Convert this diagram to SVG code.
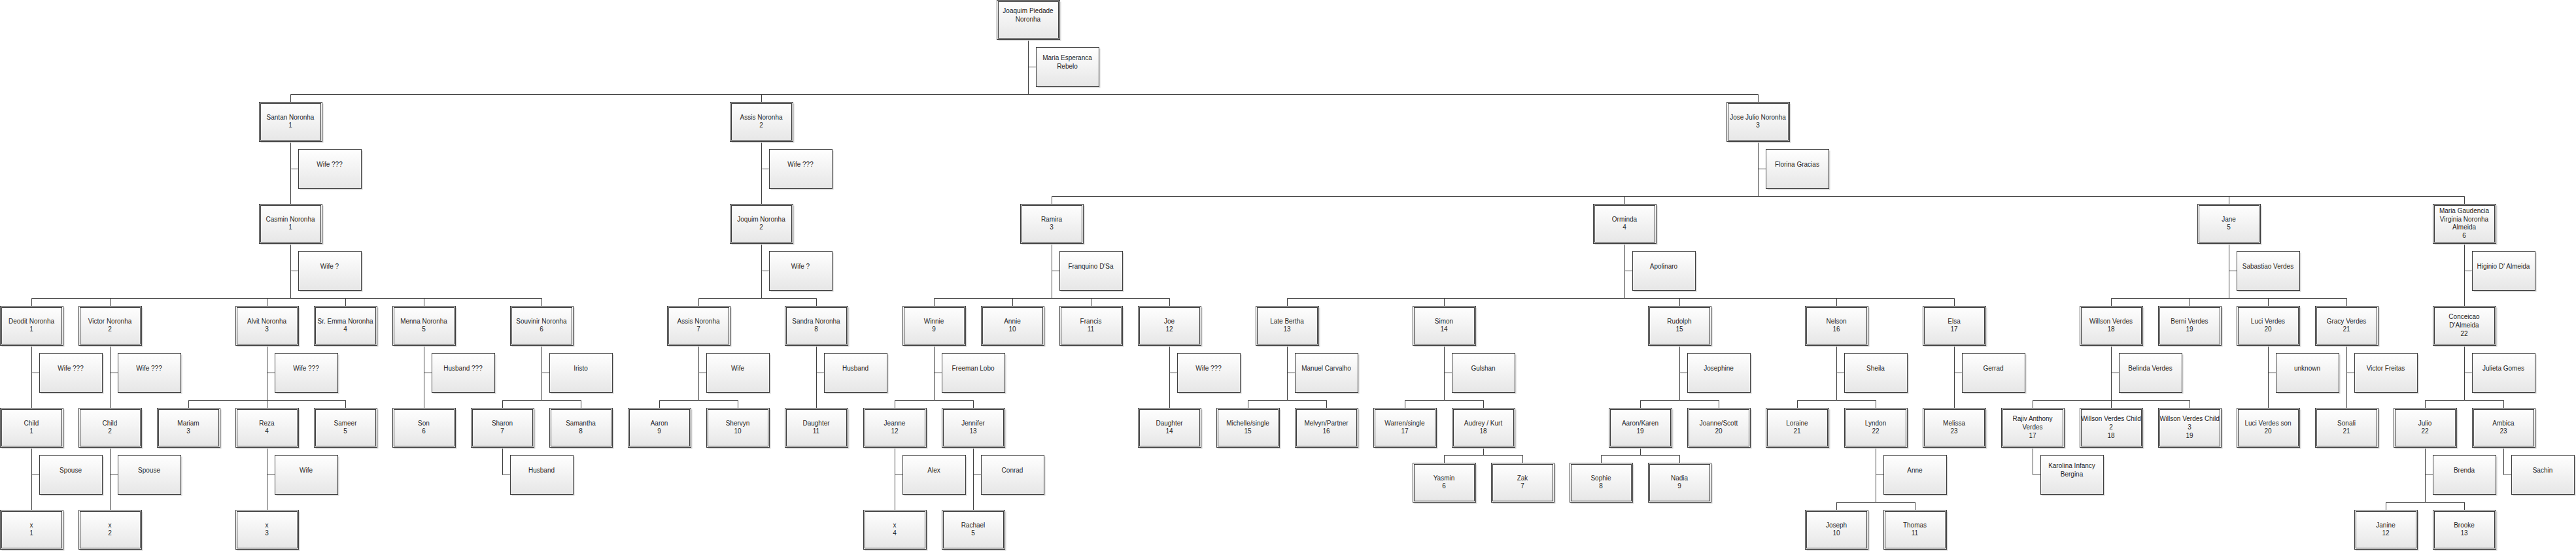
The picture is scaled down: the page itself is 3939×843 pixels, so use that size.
<svg xmlns="http://www.w3.org/2000/svg" width="3939" height="843" viewBox="0 0 3939 843">
<defs>
<linearGradient id="g" x1="0" y1="0" x2="0" y2="1">
<stop offset="0" stop-color="#ffffff"/>
<stop offset="1" stop-color="#e6e6e6"/>
</linearGradient>
<g id="P">
<rect class="sh" x="2.5" y="2.5" width="96" height="60"/>
<rect class="o" x="0.5" y="0.5" width="96" height="60"/>
<rect class="i" x="2.5" y="2.5" width="92" height="56"/>
</g>
<g id="S">
<rect class="sh" x="2.5" y="2.5" width="96" height="60"/>
<rect class="o" x="0.5" y="0.5" width="96" height="60"/>
</g>
</defs>
<style>
.o{fill:url(#g);stroke:#3f3f3f;stroke-width:1}
.i{fill:none;stroke:#3f3f3f;stroke-width:1}
.sh{fill:#d6d6d6}
.t{font-family:"Liberation Sans",Arial,sans-serif;font-size:10px;fill:#1e1e1e;text-anchor:middle}
#edges path{fill:none;stroke:#3f3f3f;stroke-width:1}
</style>
<rect width="3939" height="843" fill="#ffffff"/>

<g id="edges">
<path d="M1572.5 61V144.5M1572.5 102.5H1584.5M444.5 144.5H2688.5M444.5 144.5V156.5M1164.5 144.5V156.5M2688.5 144.5V156.5"/>
<path d="M444.5 217V312.5M444.5 258.5H456.5"/>
<path d="M1164.5 217V312.5M1164.5 258.5H1176.5"/>
<path d="M2688.5 217V300.5M2688.5 258.5H2700.5M1608.5 300.5H3768.5M1608.5 300.5V312.5M2484.5 300.5V312.5M3408.5 300.5V312.5M3768.5 300.5V312.5"/>
<path d="M444.5 373V456.5M444.5 414.5H456.5M48.5 456.5H828.5M48.5 456.5V468.5M168.5 456.5V468.5M408.5 456.5V468.5M528.5 456.5V468.5M648.5 456.5V468.5M828.5 456.5V468.5"/>
<path d="M1164.5 373V456.5M1164.5 414.5H1176.5M1068.5 456.5H1248.5M1068.5 456.5V468.5M1248.5 456.5V468.5"/>
<path d="M1608.5 373V456.5M1608.5 414.5H1620.5M1428.5 456.5H1788.5M1428.5 456.5V468.5M1548.5 456.5V468.5M1668.5 456.5V468.5M1788.5 456.5V468.5"/>
<path d="M2484.5 373V456.5M2484.5 414.5H2496.5M1968.5 456.5H2988.5M1968.5 456.5V468.5M2208.5 456.5V468.5M2568.5 456.5V468.5M2808.5 456.5V468.5M2988.5 456.5V468.5"/>
<path d="M3408.5 373V456.5M3408.5 414.5H3420.5M3228.5 456.5H3588.5M3228.5 456.5V468.5M3348.5 456.5V468.5M3468.5 456.5V468.5M3588.5 456.5V468.5"/>
<path d="M3768.5 373V468.5M3768.5 414.5H3780.5"/>
<path d="M48.5 529V624.5M48.5 570.5H60.5"/>
<path d="M168.5 529V624.5M168.5 570.5H180.5"/>
<path d="M408.5 529V624.5M408.5 570.5H420.5M288.5 612.5H528.5M288.5 612.5V624.5M528.5 612.5V624.5"/>
<path d="M648.5 529V624.5M648.5 570.5H660.5"/>
<path d="M828.5 529V612.5M828.5 570.5H840.5M768.5 612.5H888.5M768.5 612.5V624.5M888.5 612.5V624.5"/>
<path d="M1068.5 529V612.5M1068.5 570.5H1080.5M1008.5 612.5H1128.5M1008.5 612.5V624.5M1128.5 612.5V624.5"/>
<path d="M1248.5 529V624.5M1248.5 570.5H1260.5"/>
<path d="M1428.5 529V612.5M1428.5 570.5H1440.5M1368.5 612.5H1488.5M1368.5 612.5V624.5M1488.5 612.5V624.5"/>
<path d="M1788.5 529V624.5M1788.5 570.5H1800.5"/>
<path d="M1968.5 529V612.5M1968.5 570.5H1980.5M1908.5 612.5H2028.5M1908.5 612.5V624.5M2028.5 612.5V624.5"/>
<path d="M2208.5 529V612.5M2208.5 570.5H2220.5M2148.5 612.5H2268.5M2148.5 612.5V624.5M2268.5 612.5V624.5"/>
<path d="M2568.5 529V612.5M2568.5 570.5H2580.5M2508.5 612.5H2628.5M2508.5 612.5V624.5M2628.5 612.5V624.5"/>
<path d="M2808.5 529V612.5M2808.5 570.5H2820.5M2748.5 612.5H2868.5M2748.5 612.5V624.5M2868.5 612.5V624.5"/>
<path d="M2988.5 529V624.5M2988.5 570.5H3000.5"/>
<path d="M3228.5 529V624.5M3228.5 570.5H3240.5M3108.5 612.5H3348.5M3108.5 612.5V624.5M3348.5 612.5V624.5"/>
<path d="M3468.5 529V624.5M3468.5 570.5H3480.5"/>
<path d="M3588.5 529V624.5M3588.5 570.5H3600.5"/>
<path d="M3768.5 529V612.5M3768.5 570.5H3780.5M3708.5 612.5H3828.5M3708.5 612.5V624.5M3828.5 612.5V624.5"/>
<path d="M48.5 685V780.5M48.5 726.5H60.5"/>
<path d="M168.5 685V780.5M168.5 726.5H180.5"/>
<path d="M408.5 685V780.5M408.5 726.5H420.5"/>
<path d="M768.5 685V726.5H780.5"/>
<path d="M1368.5 685V780.5M1368.5 726.5H1380.5"/>
<path d="M1488.5 685V780.5M1488.5 726.5H1500.5"/>
<path d="M2268.5 685V696.5M2208.5 696.5H2328.5M2208.5 696.5V708.5M2328.5 696.5V708.5"/>
<path d="M2508.5 685V696.5M2448.5 696.5H2568.5M2448.5 696.5V708.5M2568.5 696.5V708.5"/>
<path d="M2868.5 685V768.5M2868.5 726.5H2880.5M2808.5 768.5H2928.5M2808.5 768.5V780.5M2928.5 768.5V780.5"/>
<path d="M3108.5 685V726.5H3120.5"/>
<path d="M3708.5 685V768.5M3708.5 726.5H3720.5M3648.5 768.5H3768.5M3648.5 768.5V780.5M3768.5 768.5V780.5"/>
<path d="M3828.5 685V726.5H3840.5"/>
</g>

<g id="n-root"><use href="#P" x="1524" y="0"/><text class="t" x="1572" y="20.3">Joaquim Piedade<tspan x="1572" dy="12.7">Noronha</tspan></text></g>
<g id="s-root"><use href="#S" x="1584" y="72"/><text class="t" x="1632" y="92.3">Maria Esperanca<tspan x="1632" dy="12.7">Rebelo</tspan></text></g>

<g id="n-santan"><use href="#P" x="396" y="156"/><text class="t" x="444" y="182.7">Santan Noronha<tspan x="444" dy="12.7">1</tspan></text></g>
<g id="s-santan"><use href="#S" x="456" y="228"/><text class="t" x="504" y="254.7">Wife ???</text></g>
<g id="n-assis"><use href="#P" x="1116" y="156"/><text class="t" x="1164" y="182.7">Assis Noronha<tspan x="1164" dy="12.7">2</tspan></text></g>
<g id="s-assis"><use href="#S" x="1176" y="228"/><text class="t" x="1224" y="254.7">Wife ???</text></g>
<g id="n-josejulio"><use href="#P" x="2640" y="156"/><text class="t" x="2688" y="182.7">Jose Julio Noronha<tspan x="2688" dy="12.7">3</tspan></text></g>
<g id="s-josejulio"><use href="#S" x="2700" y="228"/><text class="t" x="2748" y="254.7">Florina Gracias</text></g>

<g id="n-casmin"><use href="#P" x="396" y="312"/><text class="t" x="444" y="338.7">Casmin Noronha<tspan x="444" dy="12.7">1</tspan></text></g>
<g id="s-casmin"><use href="#S" x="456" y="384"/><text class="t" x="504" y="410.7">Wife ?</text></g>
<g id="n-joquim"><use href="#P" x="1116" y="312"/><text class="t" x="1164" y="338.7">Joquim Noronha<tspan x="1164" dy="12.7">2</tspan></text></g>
<g id="s-joquim"><use href="#S" x="1176" y="384"/><text class="t" x="1224" y="410.7">Wife ?</text></g>
<g id="n-ramira"><use href="#P" x="1560" y="312"/><text class="t" x="1608" y="338.7">Ramira<tspan x="1608" dy="12.7">3</tspan></text></g>
<g id="s-ramira"><use href="#S" x="1620" y="384"/><text class="t" x="1668" y="410.7">Franquino D'Sa</text></g>
<g id="n-orminda"><use href="#P" x="2436" y="312"/><text class="t" x="2484" y="338.7">Orminda<tspan x="2484" dy="12.7">4</tspan></text></g>
<g id="s-orminda"><use href="#S" x="2496" y="384"/><text class="t" x="2544" y="410.7">Apolinaro</text></g>
<g id="n-jane"><use href="#P" x="3360" y="312"/><text class="t" x="3408" y="338.7">Jane<tspan x="3408" dy="12.7">5</tspan></text></g>
<g id="s-jane"><use href="#S" x="3420" y="384"/><text class="t" x="3468" y="410.7">Sabastiao Verdes</text></g>
<g id="n-mariag"><use href="#P" x="3720" y="312"/><text class="t" x="3768" y="326">Maria Gaudencia<tspan x="3768" dy="12.7">Virginia Noronha</tspan><tspan x="3768" dy="12.7">Almeida</tspan><tspan x="3768" dy="12.7">6</tspan></text></g>
<g id="s-mariag"><use href="#S" x="3780" y="384"/><text class="t" x="3828" y="410.7">Higinio D' Almeida</text></g>

<g id="n-deodit"><use href="#P" x="0" y="468"/><text class="t" x="48" y="494.7">Deodit Noronha<tspan x="48" dy="12.7">1</tspan></text></g>
<g id="s-deodit"><use href="#S" x="60" y="540"/><text class="t" x="108" y="566.7">Wife ???</text></g>
<g id="n-victor"><use href="#P" x="120" y="468"/><text class="t" x="168" y="494.7">Victor Noronha<tspan x="168" dy="12.7">2</tspan></text></g>
<g id="s-victor"><use href="#S" x="180" y="540"/><text class="t" x="228" y="566.7">Wife ???</text></g>
<g id="n-alvit"><use href="#P" x="360" y="468"/><text class="t" x="408" y="494.7">Alvit Noronha<tspan x="408" dy="12.7">3</tspan></text></g>
<g id="s-alvit"><use href="#S" x="420" y="540"/><text class="t" x="468" y="566.7">Wife ???</text></g>
<g id="n-emma"><use href="#P" x="480" y="468"/><text class="t" x="528" y="494.7">Sr. Emma Noronha<tspan x="528" dy="12.7">4</tspan></text></g>
<g id="n-menna"><use href="#P" x="600" y="468"/><text class="t" x="648" y="494.7">Menna Noronha<tspan x="648" dy="12.7">5</tspan></text></g>
<g id="s-menna"><use href="#S" x="660" y="540"/><text class="t" x="708" y="566.7">Husband ???</text></g>
<g id="n-souvinir"><use href="#P" x="780" y="468"/><text class="t" x="828" y="494.7">Souvinir Noronha<tspan x="828" dy="12.7">6</tspan></text></g>
<g id="s-souvinir"><use href="#S" x="840" y="540"/><text class="t" x="888" y="566.7">Iristo</text></g>
<g id="n-assis7"><use href="#P" x="1020" y="468"/><text class="t" x="1068" y="494.7">Assis Noronha<tspan x="1068" dy="12.7">7</tspan></text></g>
<g id="s-assis7"><use href="#S" x="1080" y="540"/><text class="t" x="1128" y="566.7">Wife</text></g>
<g id="n-sandra"><use href="#P" x="1200" y="468"/><text class="t" x="1248" y="494.7">Sandra Noronha<tspan x="1248" dy="12.7">8</tspan></text></g>
<g id="s-sandra"><use href="#S" x="1260" y="540"/><text class="t" x="1308" y="566.7">Husband</text></g>
<g id="n-winnie"><use href="#P" x="1380" y="468"/><text class="t" x="1428" y="494.7">Winnie<tspan x="1428" dy="12.7">9</tspan></text></g>
<g id="s-winnie"><use href="#S" x="1440" y="540"/><text class="t" x="1488" y="566.7">Freeman Lobo</text></g>
<g id="n-annie"><use href="#P" x="1500" y="468"/><text class="t" x="1548" y="494.7">Annie<tspan x="1548" dy="12.7">10</tspan></text></g>
<g id="n-francis"><use href="#P" x="1620" y="468"/><text class="t" x="1668" y="494.7">Francis<tspan x="1668" dy="12.7">11</tspan></text></g>
<g id="n-joe"><use href="#P" x="1740" y="468"/><text class="t" x="1788" y="494.7">Joe<tspan x="1788" dy="12.7">12</tspan></text></g>
<g id="s-joe"><use href="#S" x="1800" y="540"/><text class="t" x="1848" y="566.7">Wife ???</text></g>
<g id="n-bertha"><use href="#P" x="1920" y="468"/><text class="t" x="1968" y="494.7">Late Bertha<tspan x="1968" dy="12.7">13</tspan></text></g>
<g id="s-bertha"><use href="#S" x="1980" y="540"/><text class="t" x="2028" y="566.7">Manuel Carvalho</text></g>
<g id="n-simon"><use href="#P" x="2160" y="468"/><text class="t" x="2208" y="494.7">Simon<tspan x="2208" dy="12.7">14</tspan></text></g>
<g id="s-simon"><use href="#S" x="2220" y="540"/><text class="t" x="2268" y="566.7">Gulshan</text></g>
<g id="n-rudolph"><use href="#P" x="2520" y="468"/><text class="t" x="2568" y="494.7">Rudolph<tspan x="2568" dy="12.7">15</tspan></text></g>
<g id="s-rudolph"><use href="#S" x="2580" y="540"/><text class="t" x="2628" y="566.7">Josephine</text></g>
<g id="n-nelson"><use href="#P" x="2760" y="468"/><text class="t" x="2808" y="494.7">Nelson<tspan x="2808" dy="12.7">16</tspan></text></g>
<g id="s-nelson"><use href="#S" x="2820" y="540"/><text class="t" x="2868" y="566.7">Sheila</text></g>
<g id="n-elsa"><use href="#P" x="2940" y="468"/><text class="t" x="2988" y="494.7">Elsa<tspan x="2988" dy="12.7">17</tspan></text></g>
<g id="s-elsa"><use href="#S" x="3000" y="540"/><text class="t" x="3048" y="566.7">Gerrad</text></g>
<g id="n-willson"><use href="#P" x="3180" y="468"/><text class="t" x="3228" y="494.7">Willson Verdes<tspan x="3228" dy="12.7">18</tspan></text></g>
<g id="s-willson"><use href="#S" x="3240" y="540"/><text class="t" x="3288" y="566.7">Belinda Verdes</text></g>
<g id="n-berni"><use href="#P" x="3300" y="468"/><text class="t" x="3348" y="494.7">Berni Verdes<tspan x="3348" dy="12.7">19</tspan></text></g>
<g id="n-luci"><use href="#P" x="3420" y="468"/><text class="t" x="3468" y="494.7">Luci Verdes<tspan x="3468" dy="12.7">20</tspan></text></g>
<g id="s-luci"><use href="#S" x="3480" y="540"/><text class="t" x="3528" y="566.7">unknown</text></g>
<g id="n-gracy"><use href="#P" x="3540" y="468"/><text class="t" x="3588" y="494.7">Gracy Verdes<tspan x="3588" dy="12.7">21</tspan></text></g>
<g id="s-gracy"><use href="#S" x="3600" y="540"/><text class="t" x="3648" y="566.7">Victor Freitas</text></g>
<g id="n-conceicao"><use href="#P" x="3720" y="468"/><text class="t" x="3768" y="488.3">Conceicao<tspan x="3768" dy="12.7">D'Almeida</tspan><tspan x="3768" dy="12.7">22</tspan></text></g>
<g id="s-conceicao"><use href="#S" x="3780" y="540"/><text class="t" x="3828" y="566.7">Julieta Gomes</text></g>

<g id="n-child1"><use href="#P" x="0" y="624"/><text class="t" x="48" y="650.7">Child<tspan x="48" dy="12.7">1</tspan></text></g>
<g id="s-child1"><use href="#S" x="60" y="696"/><text class="t" x="108" y="722.7">Spouse</text></g>
<g id="n-child2"><use href="#P" x="120" y="624"/><text class="t" x="168" y="650.7">Child<tspan x="168" dy="12.7">2</tspan></text></g>
<g id="s-child2"><use href="#S" x="180" y="696"/><text class="t" x="228" y="722.7">Spouse</text></g>
<g id="n-mariam"><use href="#P" x="240" y="624"/><text class="t" x="288" y="650.7">Mariam<tspan x="288" dy="12.7">3</tspan></text></g>
<g id="n-reza"><use href="#P" x="360" y="624"/><text class="t" x="408" y="650.7">Reza<tspan x="408" dy="12.7">4</tspan></text></g>
<g id="s-reza"><use href="#S" x="420" y="696"/><text class="t" x="468" y="722.7">Wife</text></g>
<g id="n-sameer"><use href="#P" x="480" y="624"/><text class="t" x="528" y="650.7">Sameer<tspan x="528" dy="12.7">5</tspan></text></g>
<g id="n-son"><use href="#P" x="600" y="624"/><text class="t" x="648" y="650.7">Son<tspan x="648" dy="12.7">6</tspan></text></g>
<g id="n-sharon"><use href="#P" x="720" y="624"/><text class="t" x="768" y="650.7">Sharon<tspan x="768" dy="12.7">7</tspan></text></g>
<g id="s-sharon"><use href="#S" x="780" y="696"/><text class="t" x="828" y="722.7">Husband</text></g>
<g id="n-samantha"><use href="#P" x="840" y="624"/><text class="t" x="888" y="650.7">Samantha<tspan x="888" dy="12.7">8</tspan></text></g>
<g id="n-aaron"><use href="#P" x="960" y="624"/><text class="t" x="1008" y="650.7">Aaron<tspan x="1008" dy="12.7">9</tspan></text></g>
<g id="n-shervyn"><use href="#P" x="1080" y="624"/><text class="t" x="1128" y="650.7">Shervyn<tspan x="1128" dy="12.7">10</tspan></text></g>
<g id="n-daughter11"><use href="#P" x="1200" y="624"/><text class="t" x="1248" y="650.7">Daughter<tspan x="1248" dy="12.7">11</tspan></text></g>
<g id="n-jeanne"><use href="#P" x="1320" y="624"/><text class="t" x="1368" y="650.7">Jeanne<tspan x="1368" dy="12.7">12</tspan></text></g>
<g id="s-jeanne"><use href="#S" x="1380" y="696"/><text class="t" x="1428" y="722.7">Alex</text></g>
<g id="n-jennifer"><use href="#P" x="1440" y="624"/><text class="t" x="1488" y="650.7">Jennifer<tspan x="1488" dy="12.7">13</tspan></text></g>
<g id="s-jennifer"><use href="#S" x="1500" y="696"/><text class="t" x="1548" y="722.7">Conrad</text></g>
<g id="n-daughter14"><use href="#P" x="1740" y="624"/><text class="t" x="1788" y="650.7">Daughter<tspan x="1788" dy="12.7">14</tspan></text></g>
<g id="n-michelle"><use href="#P" x="1860" y="624"/><text class="t" x="1908" y="650.7">Michelle/single<tspan x="1908" dy="12.7">15</tspan></text></g>
<g id="n-melvyn"><use href="#P" x="1980" y="624"/><text class="t" x="2028" y="650.7">Melvyn/Partner<tspan x="2028" dy="12.7">16</tspan></text></g>
<g id="n-warren"><use href="#P" x="2100" y="624"/><text class="t" x="2148" y="650.7">Warren/single<tspan x="2148" dy="12.7">17</tspan></text></g>
<g id="n-audrey"><use href="#P" x="2220" y="624"/><text class="t" x="2268" y="650.7">Audrey / Kurt<tspan x="2268" dy="12.7">18</tspan></text></g>
<g id="n-aaronkaren"><use href="#P" x="2460" y="624"/><text class="t" x="2508" y="650.7">Aaron/Karen<tspan x="2508" dy="12.7">19</tspan></text></g>
<g id="n-joanne"><use href="#P" x="2580" y="624"/><text class="t" x="2628" y="650.7">Joanne/Scott<tspan x="2628" dy="12.7">20</tspan></text></g>
<g id="n-loraine"><use href="#P" x="2700" y="624"/><text class="t" x="2748" y="650.7">Loraine<tspan x="2748" dy="12.7">21</tspan></text></g>
<g id="n-lyndon"><use href="#P" x="2820" y="624"/><text class="t" x="2868" y="650.7">Lyndon<tspan x="2868" dy="12.7">22</tspan></text></g>
<g id="s-lyndon"><use href="#S" x="2880" y="696"/><text class="t" x="2928" y="722.7">Anne</text></g>
<g id="n-melissa"><use href="#P" x="2940" y="624"/><text class="t" x="2988" y="650.7">Melissa<tspan x="2988" dy="12.7">23</tspan></text></g>
<g id="n-rajiv"><use href="#P" x="3060" y="624"/><text class="t" x="3108" y="644.3">Rajiv Anthony<tspan x="3108" dy="12.7">Verdes</tspan><tspan x="3108" dy="12.7">17</tspan></text></g>
<g id="s-rajiv"><use href="#S" x="3120" y="696"/><text class="t" x="3168" y="716.3">Karolina Infancy<tspan x="3168" dy="12.7">Bergina</tspan></text></g>
<g id="n-wvc2"><use href="#P" x="3180" y="624"/><text class="t" x="3228" y="644.3">Willson Verdes Child<tspan x="3228" dy="12.7">2</tspan><tspan x="3228" dy="12.7">18</tspan></text></g>
<g id="n-wvc3"><use href="#P" x="3300" y="624"/><text class="t" x="3348" y="644.3">Willson Verdes Child<tspan x="3348" dy="12.7">3</tspan><tspan x="3348" dy="12.7">19</tspan></text></g>
<g id="n-lucison"><use href="#P" x="3420" y="624"/><text class="t" x="3468" y="650.7">Luci Verdes son<tspan x="3468" dy="12.7">20</tspan></text></g>
<g id="n-sonali"><use href="#P" x="3540" y="624"/><text class="t" x="3588" y="650.7">Sonali<tspan x="3588" dy="12.7">21</tspan></text></g>
<g id="n-julio"><use href="#P" x="3660" y="624"/><text class="t" x="3708" y="650.7">Julio<tspan x="3708" dy="12.7">22</tspan></text></g>
<g id="s-julio"><use href="#S" x="3720" y="696"/><text class="t" x="3768" y="722.7">Brenda</text></g>
<g id="n-ambica"><use href="#P" x="3780" y="624"/><text class="t" x="3828" y="650.7">Ambica<tspan x="3828" dy="12.7">23</tspan></text></g>
<g id="s-ambica"><use href="#S" x="3840" y="696"/><text class="t" x="3888" y="722.7">Sachin</text></g>

<g id="n-x1"><use href="#P" x="0" y="780"/><text class="t" x="48" y="806.7">x<tspan x="48" dy="12.7">1</tspan></text></g>
<g id="n-x2"><use href="#P" x="120" y="780"/><text class="t" x="168" y="806.7">x<tspan x="168" dy="12.7">2</tspan></text></g>
<g id="n-x3"><use href="#P" x="360" y="780"/><text class="t" x="408" y="806.7">x<tspan x="408" dy="12.7">3</tspan></text></g>
<g id="n-x4"><use href="#P" x="1320" y="780"/><text class="t" x="1368" y="806.7">x<tspan x="1368" dy="12.7">4</tspan></text></g>
<g id="n-rachael"><use href="#P" x="1440" y="780"/><text class="t" x="1488" y="806.7">Rachael<tspan x="1488" dy="12.7">5</tspan></text></g>
<g id="n-yasmin"><use href="#P" x="2160" y="708"/><text class="t" x="2208" y="734.7">Yasmin<tspan x="2208" dy="12.7">6</tspan></text></g>
<g id="n-zak"><use href="#P" x="2280" y="708"/><text class="t" x="2328" y="734.7">Zak<tspan x="2328" dy="12.7">7</tspan></text></g>
<g id="n-sophie"><use href="#P" x="2400" y="708"/><text class="t" x="2448" y="734.7">Sophie<tspan x="2448" dy="12.7">8</tspan></text></g>
<g id="n-nadia"><use href="#P" x="2520" y="708"/><text class="t" x="2568" y="734.7">Nadia<tspan x="2568" dy="12.7">9</tspan></text></g>
<g id="n-joseph"><use href="#P" x="2760" y="780"/><text class="t" x="2808" y="806.7">Joseph<tspan x="2808" dy="12.7">10</tspan></text></g>
<g id="n-thomas"><use href="#P" x="2880" y="780"/><text class="t" x="2928" y="806.7">Thomas<tspan x="2928" dy="12.7">11</tspan></text></g>
<g id="n-janine"><use href="#P" x="3600" y="780"/><text class="t" x="3648" y="806.7">Janine<tspan x="3648" dy="12.7">12</tspan></text></g>
<g id="n-brooke"><use href="#P" x="3720" y="780"/><text class="t" x="3768" y="806.7">Brooke<tspan x="3768" dy="12.7">13</tspan></text></g>
</svg>
